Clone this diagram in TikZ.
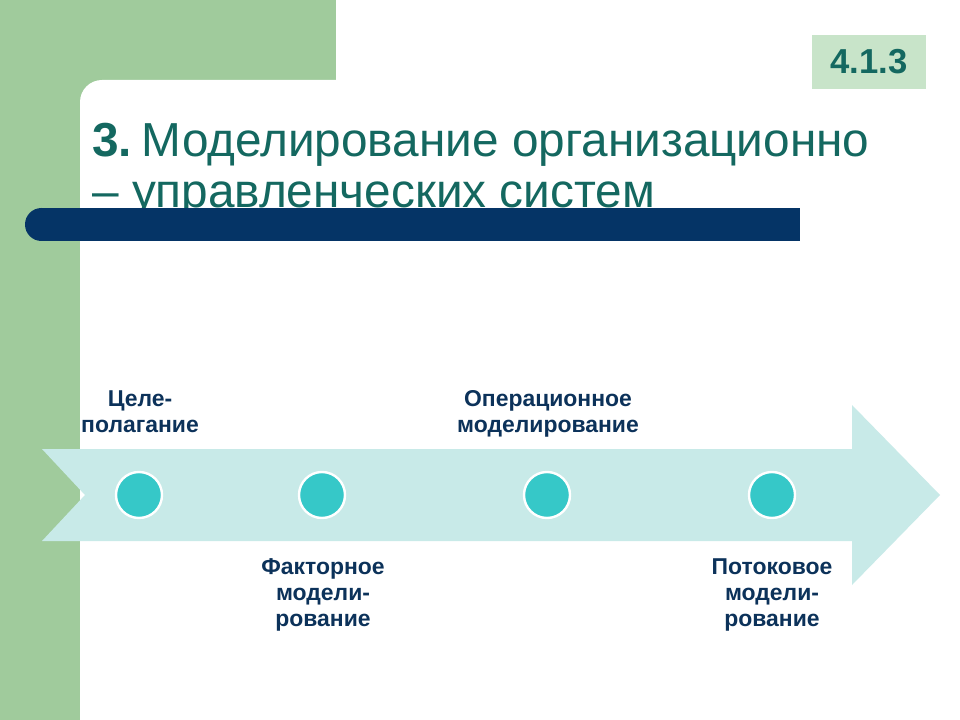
\documentclass[tikz,border=0pt]{standalone}
\usepackage{fontspec}
\setmainfont{Liberation Sans}
\usepackage{xcolor}
\usepackage{tikz}
\usetikzlibrary{positioning}
\definecolor{sidegreen}{RGB}{160,203,156}
\definecolor{badgegreen}{RGB}{200,228,201}
\definecolor{titleteal}{RGB}{20,104,96}
\definecolor{barnavy}{RGB}{5,52,102}
\definecolor{arrowcyan}{RGB}{200,234,232}
\definecolor{dotcyan}{RGB}{54,200,200}
\definecolor{lblnavy}{RGB}{12,50,90}
\begin{document}
\begin{tikzpicture}[x=0.75pt,y=-0.75pt,
  lbl/.style={lblnavy,align=center,anchor=base,inner sep=0pt,
    font=\fontsize{17.2}{19.5}\selectfont\bfseries},
  dot/.style={circle,fill=dotcyan,draw=white,line width=1.8pt,
    minimum size=34.5pt,inner sep=0pt}]
  \useasboundingbox (0,0) rectangle (960,720);
  \fill[white] (0,0) rectangle (960,720);
  \fill[sidegreen] (0,0) rectangle (336,110);
  \fill[sidegreen] (0,0) rectangle (80,720);
  \fill[white,rounded corners=16.5pt] (80,80) rectangle (1000,760);
  \node[fill=badgegreen,minimum width=85.5pt,minimum height=40.5pt,
    text=titleteal,font=\fontsize{26}{28}\selectfont\bfseries]
    (badge) at (869,62) {4.1.3};
  \node[titleteal,anchor=base west,inner sep=0pt,
    font=\fontsize{35.8}{38}\selectfont] (title1) at (92,157)
    {\textbf{3.}\hspace{-6pt} Моделирование организационно};
  \node[titleteal,anchor=base west,inner sep=0pt,
    font=\fontsize{35.8}{38}\selectfont] (title2) at (92,208)
    {– управленческих систем};
  \fill[barnavy] (41.5,208) rectangle (800,241);
  \fill[barnavy] (41.5,224.5) circle[radius=16.5];
  \fill[arrowcyan] (42,449) -- (852,449) -- (852,405) -- (940,495)
    -- (852,585) -- (852,541) -- (42,541) -- (85,495) -- cycle;
  \foreach \x/\nm in {139/d1,322/d2,547/d3,772/d4}
    \node[dot] (\nm) at (\x,495) {};
  \node[lbl] (goal) at (140,432) {Целе-\\полагание};
  \node[lbl] (oper) at (548,432) {Операционное\\моделирование};
  \node[lbl] (fact) at (323,626) {Факторное\\модели-\\рование};
  \node[lbl] (flow) at (772,626) {Потоковое\\модели-\\рование};
\end{tikzpicture}
\end{document}
